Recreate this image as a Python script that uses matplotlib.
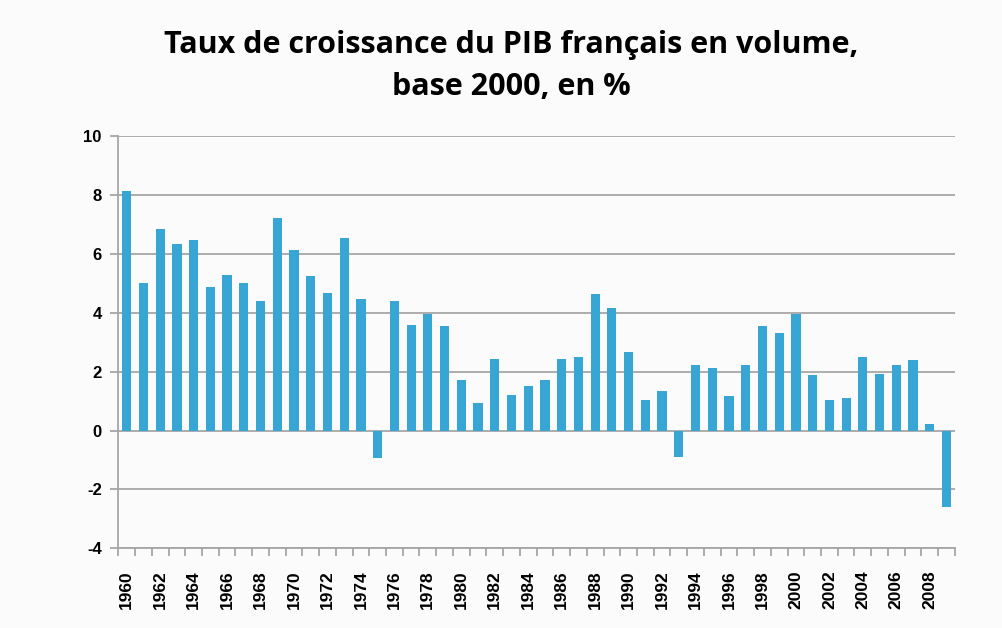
import matplotlib
matplotlib.use("Agg")
import matplotlib.pyplot as plt
import numpy as np

# Données
years = list(range(1960, 2010))
growth = [
    8.15, 5.0, 6.85, 6.33, 6.49, 4.89, 5.29, 5.0, 4.41, 7.22,
    6.13, 5.25, 4.69, 6.54, 4.47, -0.95, 4.41, 3.58, 3.97, 3.54,
    1.72, 0.95, 2.44, 1.2, 1.52, 1.72, 2.44, 2.5, 4.63, 4.16,
    2.66, 1.05, 1.36, -0.89, 2.24, 2.14, 1.16, 2.24, 3.54, 3.33,
    3.97, 1.88, 1.05, 1.1, 2.5, 1.93, 2.24, 2.4, 0.23, -2.59,
]
y_ticks = [-4, -2, 0, 2, 4, 6, 8, 10]

BAR_COLOR = "#37a6d4"
GRID_COLOR = "#a6a6a6"
BG = "#fbfbfb"

fig = plt.figure(figsize=(10.03, 6.28), dpi=100, facecolor=BG)
ax = fig.add_axes([0.118, 0.127, 0.834, 0.656])
ax.set_facecolor(BG)

x = np.arange(len(years))
ax.bar(x, growth, width=0.55, color=BAR_COLOR, zorder=3)

ax.set_xlim(-0.5, len(years) - 0.5)
ax.set_ylim(-4, 10)
ax.set_yticks(y_ticks)
ax.set_yticklabels([str(v) for v in y_ticks], fontsize=12, fontweight="bold",
                   family="Liberation Sans")
ax.yaxis.grid(True, color=GRID_COLOR, linewidth=1.3, zorder=0)

# graduations: traits aux limites de catégories, étiquettes une année sur deux
ax.set_xticks(np.arange(len(years) + 1) - 0.5, minor=True)
ax.set_xticks(x[::2])
ax.set_xticklabels([str(y) for y in years[::2]], rotation=90, fontsize=12.5,
                   fontweight="bold", family="Liberation Sans")
ax.tick_params(axis="x", which="major", length=0, pad=16)
ax.tick_params(axis="x", which="minor", length=6, color=GRID_COLOR, width=1.3)
ax.tick_params(axis="y", length=6, color=GRID_COLOR, width=1.3, pad=6)

for side in ["top", "right"]:
    ax.spines[side].set_visible(False)
for side in ["left", "bottom"]:
    ax.spines[side].set_color(GRID_COLOR)
    ax.spines[side].set_linewidth(1.3)

fig.text(0.51, 0.895, "Taux de croissance du PIB français en volume,\nbase 2000, en %",
         ha="center", va="center", fontsize=22, fontweight="bold",
         family="Open Sans", linespacing=1.5)

fig.savefig("out.png", dpi=100, facecolor=BG)
